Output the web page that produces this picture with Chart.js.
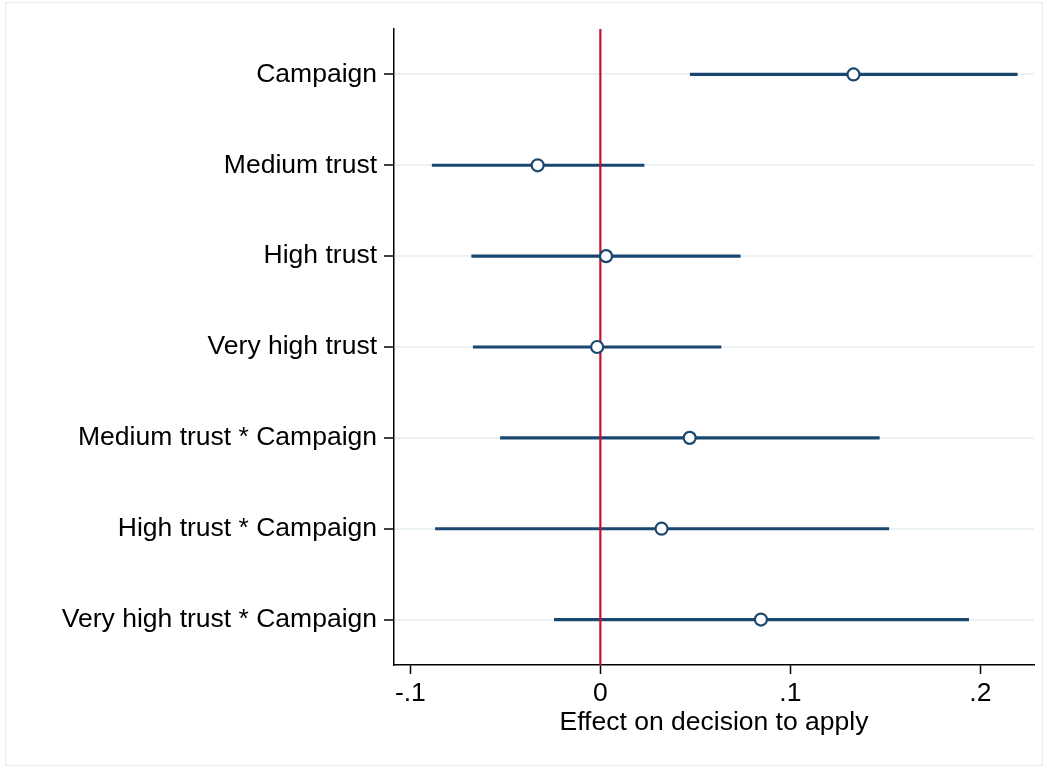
<!DOCTYPE html>
<html>
<head>
<meta charset="utf-8">
<title>Effect on decision to apply</title>
<script src="https://cdn.jsdelivr.net/npm/chart.js@4.4.1/dist/chart.umd.min.js"></script>
<style>
  html, body { margin: 0; padding: 0; background: #ffffff; }
  #wrap { position: relative; width: 1047px; height: 768px; }
  #frame { position: absolute; left: 5px; top: 2px; width: 1036px; height: 762px;
           border: 1px solid #e6eef0; pointer-events: none; }
</style>
</head>
<body>
<div id="wrap">
  <canvas id="chart"></canvas>
  <div id="frame"></div>
</div>
<script>
// Coefficient estimates with 95% confidence intervals
const terms = [
  'Campaign',
  'Medium trust',
  'High trust',
  'Very high trust',
  'Medium trust * Campaign',
  'High trust * Campaign',
  'Very high trust * Campaign'
];
const estimates = [0.1332, -0.0330, 0.0030, -0.0017, 0.0470, 0.0322, 0.0845];
const ciLower   = [0.0473, -0.0885, -0.0677, -0.0669, -0.0526, -0.0868, -0.0242];
const ciUpper   = [0.2194, 0.0230, 0.0736, 0.0635, 0.1468, 0.1518, 0.1938];

const xTickValues = [-0.1, 0, 0.1, 0.2];
const xTickLabels = ['-.1', '0', '.1', '.2'];

const navy = '#1a476f';
const refRed = '#c8102e';
const font = { family: "'Liberation Sans', Arial, Helvetica, sans-serif", size: 26.5 };

// Vertical reference line at zero, drawn above the interval bars but below the markers
const zeroLine = {
  id: 'zeroLine',
  afterDatasetDraw(chart, args) {
    if (args.index !== 1) return;
    const { ctx, chartArea, scales } = chart;
    const x = scales.x.getPixelForValue(0);
    ctx.save();
    ctx.strokeStyle = refRed;
    ctx.lineWidth = 2.2;
    ctx.beginPath();
    ctx.moveTo(x, chartArea.top);
    ctx.lineTo(x, chartArea.bottom);
    ctx.stroke();
    ctx.restore();
  }
};

new Chart(document.getElementById('chart'), {
  type: 'bar',
  data: {
    labels: terms,
    datasets: [
      {
        type: 'scatter',
        label: 'Estimate',
        data: terms.map((t, i) => ({ x: estimates[i], y: t })),
        pointRadius: 6,
        pointHoverRadius: 6,
        pointBorderWidth: 2.2,
        pointBorderColor: navy,
        pointBackgroundColor: '#ffffff',
        showLine: false,
        order: 0
      },
      {
        type: 'bar',
        label: '95% CI',
        data: terms.map((t, i) => [ciLower[i], ciUpper[i]]),
        backgroundColor: navy,
        borderWidth: 0,
        barThickness: 2.5,
        order: 1
      }
    ]
  },
  options: {
    indexAxis: 'y',
    responsive: true,
    maintainAspectRatio: false,
    animation: false,
    events: [],
    layout: { padding: { left: 0, top: 29, right: 13, bottom: 0 } },
    plugins: { legend: { display: false }, tooltip: { enabled: false } },
    scales: {
      x: {
        type: 'linear',
        position: 'bottom',
        min: -0.1086,
        max: 0.2282,
        afterBuildTicks(scale) { scale.ticks = xTickValues.map(v => ({ value: v })); },
        afterFit(scale) { scale.height = 103; },
        ticks: {
          color: '#000',
          font: font,
          padding: 4,
          maxRotation: 0,
          autoSkip: false,
          callback(value) {
            const i = xTickValues.indexOf(value);
            return i >= 0 ? xTickLabels[i] : '';
          }
        },
        grid: {
          drawOnChartArea: false,
          drawTicks: true,
          tickLength: 9,
          tickColor: '#000',
          tickWidth: 1.5
        },
        border: { display: true, color: '#000', width: 1.5 },
        title: {
          display: true,
          text: 'Effect on decision to apply',
          color: '#000',
          font: font,
          padding: { top: 0, bottom: 29 }
        }
      },
      y: {
        type: 'category',
        labels: terms,
        offset: true,
        afterFit(scale) { scale.width = 394; },
        ticks: { color: '#000', font: font, padding: 7, autoSkip: false },
        grid: {
          offset: false,
          color: '#eaf2f3',
          lineWidth: 2,
          drawTicks: true,
          tickLength: 10,
          tickColor: '#000',
          tickWidth: 1.5
        },
        border: { display: true, color: '#000', width: 1.5 }
      }
    }
  },
  plugins: [zeroLine]
});
</script>
</body>
</html>
